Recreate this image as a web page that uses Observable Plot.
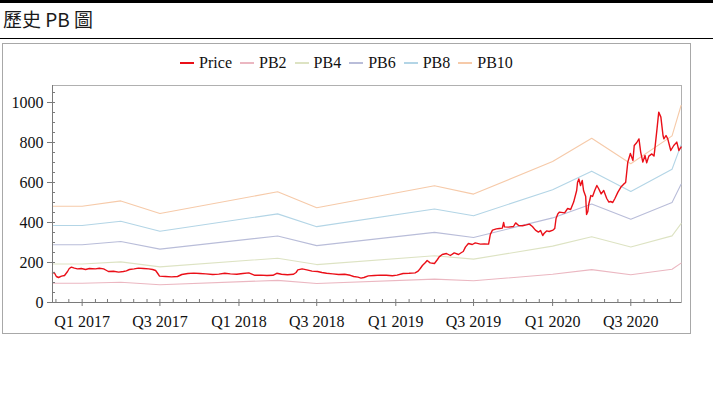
<!DOCTYPE html>
<html>
<head>
<meta charset="utf-8">
<script src="https://cdn.jsdelivr.net/npm/d3@7"></script>
<script src="https://cdn.jsdelivr.net/npm/@observablehq/plot@0.6"></script>
<style>
  html, body { margin: 0; padding: 0; background: #fff; }
  #topbar { position: absolute; left: 0; top: 0; width: 713px; height: 3px; background: #000; }
  #title { position: absolute; left: 3px; top: 5px; font-family: "Noto Sans CJK TC", "Noto Sans", sans-serif; font-size: 19px; line-height: 28px; color: #1a1a1a; white-space: nowrap; }
  #rule { position: absolute; left: 0; top: 38px; width: 713px; height: 1px; background: #000; }
  #chart { position: absolute; left: 0; top: 43px; }
  #box { position: absolute; left: 2px; top: 43px; width: 689px; height: 291px; box-sizing: border-box; border: 1px solid #a8a8a8; pointer-events: none; }
  #legend { position: absolute; left: 2px; top: 54px; width: 689px; display: flex; justify-content: center; align-items: center; font-family: "Liberation Serif", serif; font-size: 16px; line-height: 18px; color: #111; }
  #legend .item { display: flex; align-items: center; margin-right: 8px; }
  #legend .item:last-child { margin-right: 0; }
  #legend .sw { display: inline-block; width: 14px; height: 1.5px; margin-right: 5px; }
</style>
</head>
<body>
<div id="topbar"></div>
<div id="title">歷史 PB 圖</div>
<div id="rule"></div>
<div id="chart"></div>
<div id="legend"></div>
<div id="box"></div>
<script>
// ---- Data ----
const priceDates = [
"2016-10-24","2016-10-28","2016-11-02","2016-11-07","2016-11-14","2016-11-21","2016-11-28","2016-12-02","2016-12-07","2016-12-14","2016-12-21","2016-12-30",
"2017-01-09","2017-01-18","2017-02-01","2017-02-10","2017-02-20","2017-02-27","2017-03-03","2017-03-15","2017-03-27","2017-04-07","2017-04-14","2017-04-21",
"2017-05-02","2017-05-12","2017-05-24","2017-06-05","2017-06-14","2017-06-21","2017-06-26","2017-06-30","2017-07-14","2017-07-28","2017-08-11","2017-08-21",
"2017-09-04","2017-09-18","2017-10-02","2017-10-16","2017-11-01","2017-11-15","2017-11-29","2017-12-12","2017-12-27",
"2018-01-10","2018-01-24","2018-02-07","2018-02-21","2018-03-07","2018-03-21","2018-03-30","2018-04-10","2018-04-24","2018-05-08","2018-05-14","2018-05-18",
"2018-05-28","2018-06-08","2018-06-20","2018-07-03","2018-07-13","2018-07-24","2018-08-07","2018-08-21","2018-09-04","2018-09-17","2018-09-25","2018-10-05",
"2018-10-12","2018-10-19","2018-10-29","2018-11-12","2018-11-26","2018-12-10","2018-12-24",
"2019-01-04","2019-01-18","2019-02-01","2019-02-15","2019-02-22","2019-02-27","2019-03-04","2019-03-11","2019-03-15","2019-03-22","2019-04-01","2019-04-08",
"2019-04-12","2019-04-19","2019-04-29","2019-05-08","2019-05-17","2019-05-27","2019-06-03","2019-06-07","2019-06-12","2019-06-19","2019-06-28","2019-07-05",
"2019-07-17","2019-07-26","2019-08-05","2019-08-09","2019-08-14","2019-08-23","2019-08-30","2019-09-06","2019-09-09","2019-09-11","2019-09-20","2019-10-02",
"2019-10-07","2019-10-14","2019-10-23","2019-11-01","2019-11-08","2019-11-15","2019-11-22","2019-11-29","2019-12-04","2019-12-09","2019-12-12","2019-12-18","2019-12-24",
"2020-01-02","2020-01-06","2020-01-09","2020-01-13","2020-01-17","2020-01-29","2020-02-05","2020-02-12","2020-02-19","2020-02-26","2020-02-28","2020-03-02",
"2020-03-06","2020-03-10","2020-03-13","2020-03-18","2020-03-20","2020-03-23","2020-03-25","2020-03-30","2020-04-03","2020-04-08","2020-04-13","2020-04-17",
"2020-04-23","2020-04-29","2020-05-06","2020-05-11","2020-05-15","2020-05-20","2020-05-25","2020-06-01","2020-06-08","2020-06-15","2020-06-19","2020-06-24",
"2020-06-30","2020-07-06","2020-07-09","2020-07-15","2020-07-20","2020-07-24","2020-07-29","2020-08-03","2020-08-07","2020-08-12","2020-08-19","2020-08-24",
"2020-08-26","2020-08-31","2020-09-04","2020-09-09","2020-09-14","2020-09-16","2020-09-21","2020-09-25","2020-10-02","2020-10-09","2020-10-16","2020-10-21","2020-10-26"
];
const priceValues = [
147,150,130,125,132,135,155,170,177,172,168,170,
165,170,168,171,168,160,155,156,152,155,158,165,
168,172,170,168,165,160,145,132,130,128,130,140,
145,147,145,143,140,142,146,143,141,
145,148,136,137,135,136,146,141,139,141,150,163,
168,163,157,155,150,146,143,140,141,136,130,127,
122,125,133,135,137,136,134,
137,145,146,148,157,170,185,200,210,198,195,215,
228,240,245,235,248,240,250,255,277,295,290,298,
292,293,292,340,362,368,370,372,400,378,377,380,
398,385,384,388,392,380,362,352,360,335,345,358,355,
362,370,420,443,452,448,470,465,502,560,600,618,
585,610,560,530,440,455,490,535,530,560,585,570,
543,560,520,502,505,500,520,552,577,593,600,702,
745,710,785,800,818,752,702,735,698,732,743,732,
768,868,952,927,835,818,835,818,760,785,802,760,777
];

// PB band knots (book value per share x multiple)
const pbDates = ["2016-10-24","2017-01-01","2017-04-01","2017-07-01","2018-04-01","2018-07-01","2019-04-01","2019-07-01","2020-01-01","2020-04-01","2020-07-01","2020-10-05","2020-10-26"];
const pb2  = [96.2, 96.2, 101.6, 89.0, 110.8, 94.8, 116.8, 108.4, 141.0, 164.2, 138.8, 166.6, 197.0];
const pb4  = [192.4, 192.4, 203.2, 178.0, 221.6, 189.6, 233.6, 216.8, 282.0, 328.4, 277.6, 333.2, 394.0];
const pb6  = [288.6, 288.6, 304.8, 267.0, 332.4, 284.4, 350.4, 325.2, 423.0, 492.6, 416.4, 499.8, 591.0];
const pb8  = [384.8, 384.8, 406.4, 356.0, 443.2, 379.2, 467.2, 433.6, 564.0, 656.8, 555.2, 666.4, 788.0];
const pb10 = [481, 481, 508, 445, 554, 474, 584, 542, 705, 821, 694, 833, 985];

const seriesNames  = ["Price", "PB2", "PB4", "PB6", "PB8", "PB10"];
const seriesColors = ["#ea0f18", "#ebb7c1", "#dde3c3", "#b9bdd9", "#b3d5e6", "#f6caa9"];

const xTickDates  = ["2017-01-01","2017-07-01","2018-01-01","2018-07-01","2019-01-01","2019-07-01","2020-01-01","2020-07-01"];
const xTickLabels = ["Q1 2017","Q3 2017","Q1 2018","Q3 2018","Q1 2019","Q3 2019","Q1 2020","Q3 2020"];
const yTicks = [0, 200, 400, 600, 800, 1000];
const yMinorTicks = [0,50,100,150,200,250,300,350,400,450,500,550,600,650,700,750,800,850,900,950,1000,1050];
const xDomainDates = ["2016-10-24", "2020-10-27"];
const yDomain = [0, 1085];

// ---- Build tables ----
const priceTable = priceDates.map((d, i) => ({date: new Date(d), value: priceValues[i]}));
const pbArrays = [pb2, pb4, pb6, pb8, pb10];
const pbTable = [];
pbArrays.forEach((arr, k) => {
  pbDates.forEach((d, i) => pbTable.push({date: new Date(d), value: arr[i], series: seriesNames[k + 1]}));
});
const xTicks = xTickDates.map(d => new Date(d));
const labelMap = new Map(xTicks.map((d, i) => [+d, xTickLabels[i]]));
const xDomain = xDomainDates.map(d => new Date(d));
const xMinorTicks = d3.utcMonth.range(new Date("2016-11-01"), xDomain[1]);

const axisColor = "#7a7a7a";

const chart = Plot.plot({
  width: 725,
  height: 290,
  marginLeft: 52,
  marginRight: 44,
  marginTop: 42,
  marginBottom: 31,
  style: {background: "none", fontFamily: "'Liberation Serif', serif", fontSize: "14px", color: "#111", overflow: "visible"},
  x: {type: "utc", domain: xDomain, label: null},
  y: {domain: yDomain, label: null},
  color: {domain: seriesNames, range: seriesColors},
  marks: [
    Plot.frame({stroke: "#b0b0b0"}),
    Plot.line(pbTable, {x: "date", y: "value", z: "series", stroke: "series", strokeWidth: 1.1}),
    Plot.line(priceTable, {x: "date", y: "value", stroke: seriesColors[0], strokeWidth: 1.4}),
    Plot.ruleX([xDomain[0]], {stroke: axisColor}),
    Plot.ruleY([0], {stroke: axisColor}),
    Plot.axisY({ticks: yTicks, tickSize: 5, tickPadding: 4, fontSize: 16, stroke: axisColor, fill: "#111", tickFormat: d => String(d)}),
    Plot.axisY({ticks: yMinorTicks, tickSize: 3, dx: 3, stroke: axisColor, tickFormat: () => ""}),
    Plot.axisX({ticks: xTicks, tickSize: 4, tickPadding: 9, fontSize: 16, stroke: axisColor, fill: "#111", tickFormat: d => labelMap.get(+d)}),
    Plot.axisX({ticks: xMinorTicks, tickSize: 3, dy: -3, stroke: axisColor, tickFormat: () => ""})
  ]
});
document.getElementById("chart").appendChild(chart);

// ---- Legend ----
const legend = document.getElementById("legend");
seriesNames.forEach((name, i) => {
  const item = document.createElement("span");
  item.className = "item";
  const sw = document.createElement("span");
  sw.className = "sw";
  sw.style.background = seriesColors[i];
  item.appendChild(sw);
  item.appendChild(document.createTextNode(name));
  legend.appendChild(item);
});
</script>
</body>
</html>
